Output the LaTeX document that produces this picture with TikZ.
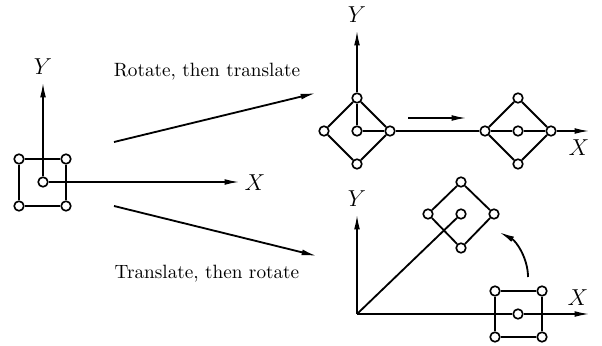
\documentclass[tikz,border=0pt]{standalone}
\usetikzlibrary{arrows.meta}
\begin{document}
\begin{tikzpicture}[x=0.52pt,y=-0.52pt,
  ln/.style={line width=0.95pt},
  arr/.style={ln,-{Latex[length=8pt,width=3pt]}},
  pt/.style={circle,draw,fill=white,line width=0.85pt,inner sep=0pt,minimum size=5pt},
  lab/.style={inner sep=1pt,font=\large}]
\useasboundingbox (0,0) rectangle (602,345);
% ---------- left figure ----------
\node[pt] (a1) at (19,159) {};
\node[pt] (a2) at (66,159) {};
\node[pt] (a3) at (66,206) {};
\node[pt] (a4) at (19,206) {};
\node[pt] (ac) at (43,182) {};
\coordinate (ay) at (43,82);
\coordinate (ax) at (240,182);
\draw[ln] (a1) -- (a2) -- (a3) -- (a4) -- (a1);
\draw[arr] (ac) -- (ay);
\draw[arr] (ac) -- (ax);
\node[lab] (aY) at (43,67) {$Y$};
\node[lab] (aX) at (255,183) {$X$};
% ---------- transformation arrows ----------
\coordinate (s1) at (114,142);
\coordinate (e1) at (316,93);
\coordinate (s2) at (114,206);
\coordinate (e2) at (317,256);
\draw[arr] (s1) -- (e1);
\draw[arr] (s2) -- (e2);
\node (t1) at (207,72) {Rotate, then translate};
\node (t2) at (207,274) {Translate, then rotate};
% ---------- top right ----------
\node[pt] (bt) at (357,98) {};
\node[pt] (bl) at (324,131) {};
\node[pt] (br) at (390,131) {};
\node[pt] (bb) at (357,164) {};
\node[pt] (bc) at (357,131) {};
\node[pt] (ct) at (518,98) {};
\node[pt] (cl) at (485,131) {};
\node[pt] (cr) at (551,131) {};
\node[pt] (cb) at (518,164) {};
\node[pt] (cc) at (518,131) {};
\coordinate (by) at (357,30);
\coordinate (bx) at (590,131);
\draw[ln] (bt) -- (bl) -- (bb) -- (br) -- (bt);
\draw[ln] (ct) -- (cl) -- (cb) -- (cr) -- (ct);
\draw[ln] (bc) -- (bt);
\draw[arr] (bt) -- (by);
\draw[ln] (bc) -- (br) -- (cl) -- (cc) -- (cr);
\draw[arr] (cr) -- (bx);
\coordinate (m1) at (408,118);
\coordinate (m2) at (467,118);
\draw[arr] (m1) -- (m2);
\node[lab] (bY) at (357,15) {$Y$};
\node[lab] (bX) at (579,148) {$X$};
% ---------- bottom right ----------
\coordinate (O) at (357,314);
\coordinate (dy) at (357,214);
\coordinate (dx) at (590,314);
\node[pt] (dt) at (461,182) {};
\node[pt] (dl) at (428,214) {};
\node[pt] (dr) at (494,214) {};
\node[pt] (db) at (461,248) {};
\node[pt] (dc) at (461,214) {};
\node[pt] (e1c) at (495,291) {};
\node[pt] (e2c) at (542,291) {};
\node[pt] (e3c) at (542,337) {};
\node[pt] (e4c) at (495,337) {};
\node[pt] (ec) at (518,314) {};
\draw[ln] (dt) -- (dl) -- (db) -- (dr) -- (dt);
\draw[ln] (e1c) -- (e2c) -- (e3c) -- (e4c) -- (e1c);
\draw[ln] (O) -- (dc);
\draw[arr] (O) -- (dy);
\draw[ln] (O) -- (ec);
\draw[arr] (ec) -- (dx);
\coordinate (r1) at (528,277);
\coordinate (r2) at (499,232);
\draw[arr] (r1) .. controls (528,258) and (516,241) .. (r2);
\node[lab] (dY) at (357,199) {$Y$};
\node[lab] (dX) at (578,298) {$X$};
\end{tikzpicture}
\end{document}
